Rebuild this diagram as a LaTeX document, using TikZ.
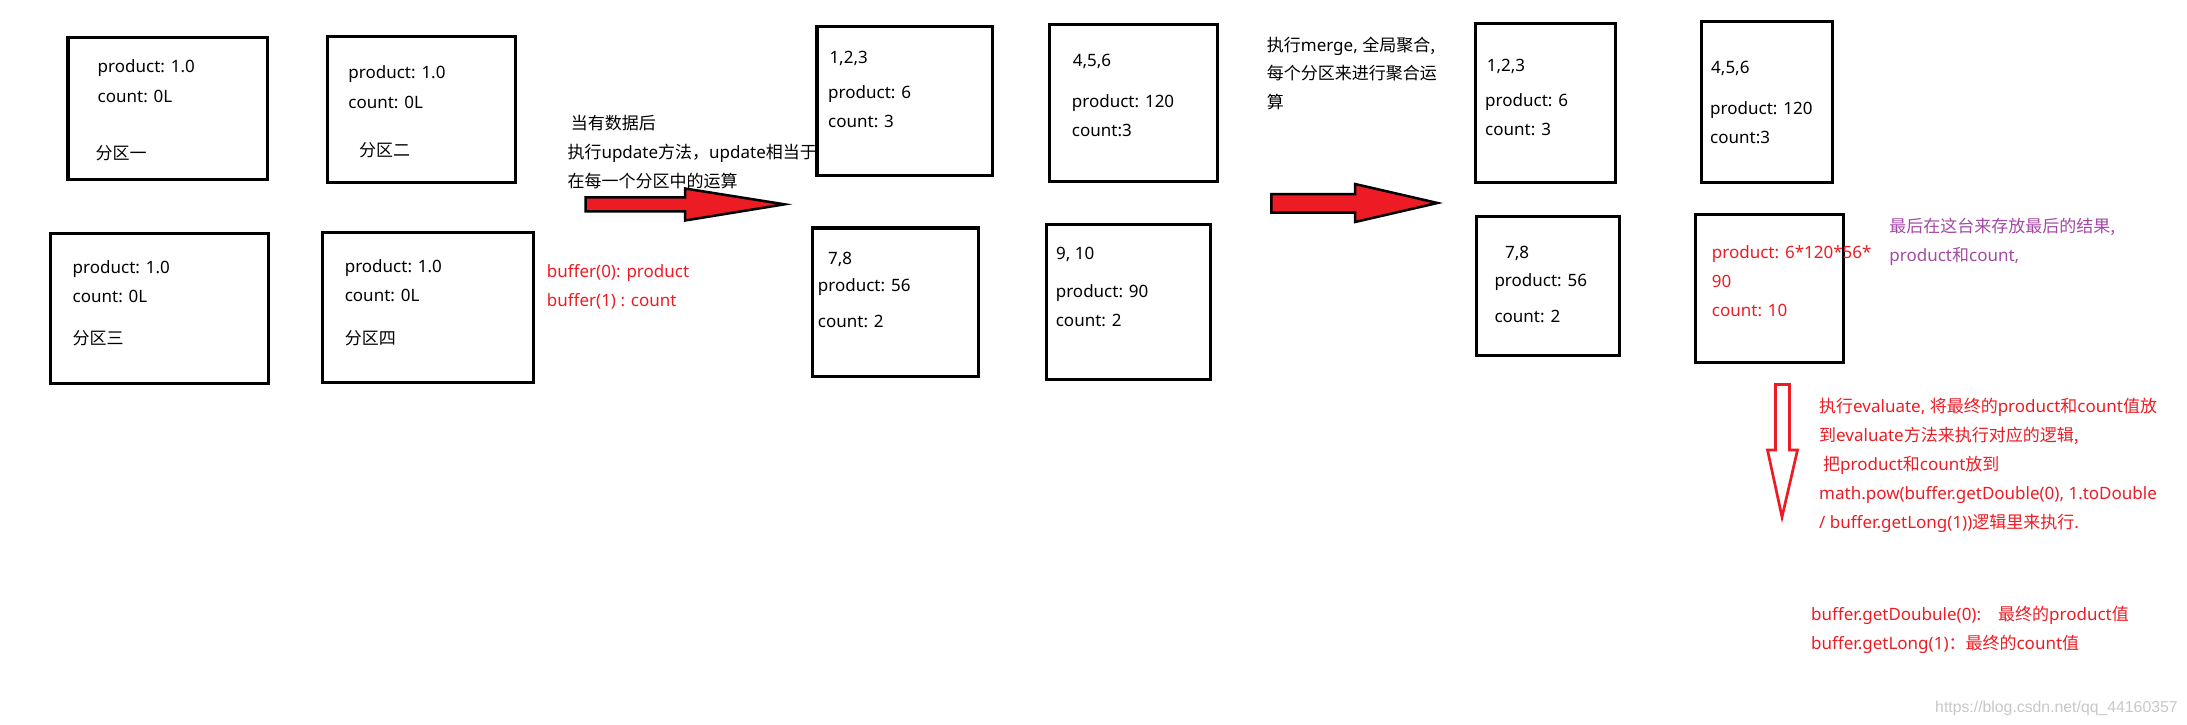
\documentclass[tikz,border=0pt]{standalone}
\usepackage{fontspec}
\setmainfont{Noto Sans}
\newfontfamily\cjkfont{Noto Sans CJK SC}
\newfontfamily\wmfont{Liberation Sans}
\usetikzlibrary{fit}
\newcommand\zh[1]{{\cjkfont #1}}
\definecolor{pred}{RGB}{237,28,36}
\definecolor{ppurple}{RGB}{163,73,164}
\begin{document}
\begin{tikzpicture}[x=1pt,y=-1pt,
  box/.style={draw=black, line width=3.2pt, inner sep=0pt},
  t/.style={anchor=base west, inner sep=0pt, font=\fontsize{17}{20}\selectfont},
  tr/.style={t, text=pred},
  blockarrow/.style={fill=pred, draw=black, line width=2.5pt, line join=miter},
  hollowarrow/.style={fill=white, draw=pred, line width=2.7pt, line join=miter}]
\useasboundingbox (0,0) rectangle (2187,724);

% ---- boxes ----
\node[box, fit={(67.9,37.5) (267.4,179.5)}] (L1) {};
\node[box, fit={(327.2,36.5) (515.3,182.5)}] (L2) {};
\node[box, fit={(50.1,233.5) (268.5,383.5)}] (L3) {};
\node[box, fit={(322.5,232.5) (533.1,382.5)}] (L4) {};
\node[box, fit={(816.9,26.5) (992.5,175.5)}] (M1) {};
\node[box, fit={(1049.8,24.5) (1217.5,181.5)}] (M2) {};
\node[box, fit={(812.5,228) (978.5,376.5)}] (M3) {};
\node[box, fit={(1046.5,224.2) (1210.5,379.2)}] (M4) {};
\node[box, fit={(1475.2,23.5) (1615.5,182.2)}] (R1) {};
\node[box, fit={(1701.2,21.5) (1832.8,182.2)}] (R2) {};
\node[box, fit={(1476.2,216.5) (1619.5,355.2)}] (R3) {};
\node[box, fit={(1695.2,214.2) (1843.5,362.8)}] (R4) {};

% ---- left zone texts ----
\node[t] (l1a) at (97.5,72.5) {product: 1.0};
\node[t] (l1b) at (97.5,102.5) {count: 0L};
\node[t] (l1c) at (95.4,159.5) {\zh{分区一}};
\node[t] (l2a) at (348.2,78.5) {product: 1.0};
\node[t] (l2b) at (348.2,108.5) {count: 0L};
\node[t] (l2c) at (359,156.5) {\zh{分区二}};
\node[t] (l3a) at (72.5,273.5) {product: 1.0};
\node[t] (l3b) at (72.5,302.5) {count: 0L};
\node[t] (l3c) at (72.5,344.5) {\zh{分区三}};
\node[t] (l4a) at (344.6,272.5) {product: 1.0};
\node[t] (l4b) at (344.6,301.5) {count: 0L};
\node[t] (l4c) at (344.6,344.5) {\zh{分区四}};

% ---- middle zone texts ----
\node[t] (u1) at (570.7,129.5) {\zh{当有数据后}};
\node[t] (u2) at (567.3,158.8) {\zh{执行}update\zh{方法，}update\zh{相当于}};
\node[t] (u3) at (567.3,187.2) {\zh{在每一个分区中的运算}};
\node[tr] (bf1) at (546.7,277.2) {buffer(0): product};
\node[tr] (bf2) at (546.7,306.5) {buffer(1) : count};
\node[t] (m1a) at (829.3,63.5) {1,2,3};
\node[t] (m1b) at (828,98.5) {product: 6};
\node[t] (m1c) at (828,127.5) {count: 3};
\node[t] (m2a) at (1072.7,66.5) {4,5,6};
\node[t] (m2b) at (1071.7,107.5) {product: 120};
\node[t] (m2c) at (1071.7,136.5) {count:3};
\node[t] (m3a) at (828,264.5) {7,8};
\node[t] (m3b) at (817.7,291.5) {product: 56};
\node[t] (m3c) at (817.7,327.5) {count: 2};
\node[t] (m4a) at (1056,259.5) {9, 10};
\node[t] (m4b) at (1055.6,297.5) {product: 90};
\node[t] (m4c) at (1055.6,326.5) {count: 2};

% ---- right zone texts ----
\node[t] (g1) at (1266.7,51.2) {\zh{执行}merge, \zh{全局聚合,}};
\node[t] (g2) at (1266.7,79.5) {\zh{每个分区来进行聚合运}};
\node[t] (g3) at (1266.7,108.5) {\zh{算}};
\node[t] (r1a) at (1486.7,71.2) {1,2,3};
\node[t] (r1b) at (1485,106.5) {product: 6};
\node[t] (r1c) at (1485,135.5) {count: 3};
\node[t] (r2a) at (1711,73.2) {4,5,6};
\node[t] (r2b) at (1710,114.5) {product: 120};
\node[t] (r2c) at (1710,143.2) {count:3};
\node[t] (r3a) at (1505,258.8) {7,8};
\node[t] (r3b) at (1494.3,286.5) {product: 56};
\node[t] (r3c) at (1494.3,322.2) {count: 2};
\node[tr] (r4a) at (1711.7,258.8) {product: 6*120*56*};
\node[tr] (r4b) at (1711.7,287.2) {90};
\node[tr] (r4c) at (1711.7,316.2) {count: 10};
\node[t, text=ppurple] (pp1) at (1889.2,232.5) {\zh{最后在这台来存放最后的结果,}};
\node[t, text=ppurple] (pp2) at (1889.2,261.5) {product\zh{和}count,};

% ---- bottom right texts ----
\node[tr] (e1) at (1819,412.5) {\zh{执行}evaluate, \zh{将最终的}product\zh{和}count\zh{值放}};
\node[tr] (e2) at (1819,441.5) {\zh{到}evaluate\zh{方法来执行对应的逻辑,}};
\node[tr] (e3) at (1823,470.5) {\zh{把}product\zh{和}count\zh{放到}};
\node[tr] (e4) at (1819,499.5) {math.pow(buffer.getDouble(0), 1.toDouble};
\node[tr] (e5) at (1819,528.5) {/ buffer.getLong(1))\zh{逻辑里来执行}.};
\node[tr] (f1) at (1811,620.5) {buffer.getDoubule(0):\zh{　最终的}product\zh{值}};
\node[tr] (f2) at (1811,649.5) {buffer.getLong(1)\zh{：最终的}count\zh{值}};

% ---- watermark ----
\node[anchor=base west, inner sep=0pt, font=\wmfont\fontsize{15.8}{18}\selectfont, text=black!22] (wm) at (1935,712) {https://blog.csdn.net/qq\_44160357};

% ---- arrows ----
\draw[blockarrow] (585.5,197.3) -- (685,197.3) -- (685,188.5) -- (784.5,204.3) -- (685,220.5) -- (685,211.4) -- (585.5,211.4) -- cycle;
\draw[blockarrow] (1271.3,194) -- (1355,194) -- (1355,184) -- (1437.5,203) -- (1355,222) -- (1355,212.7) -- (1271.3,212.7) -- cycle;
\draw[hollowarrow] (1775.5,384.5) -- (1789.5,384.5) -- (1789.5,450) -- (1797.5,450) -- (1782,517) -- (1767.5,450) -- (1775.5,450) -- cycle;
\end{tikzpicture}
\end{document}
